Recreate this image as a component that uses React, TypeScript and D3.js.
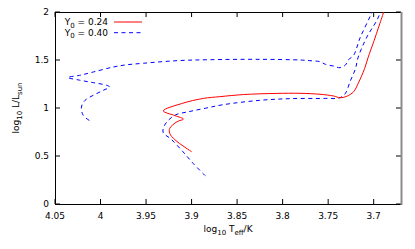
import * as d3 from "d3";

// log10 Teff and log10 L/Lsun
const teff024 = [3.900, 3.918, 3.924, 3.924, 3.916, 3.909, 3.918, 3.931, 3.911, 3.887, 3.869, 3.843, 3.807, 3.781, 3.759, 3.744, 3.737, 3.730, 3.722, 3.717, 3.710, 3.706, 3.700, 3.689];
const lum024 = [0.545, 0.667, 0.736, 0.788, 0.857, 0.885, 0.920, 0.970, 1.046, 1.100, 1.118, 1.140, 1.152, 1.153, 1.143, 1.125, 1.107, 1.120, 1.170, 1.257, 1.410, 1.530, 1.690, 2.000];

const teff040 = [3.885, 3.898, 3.910, 3.923, 3.931, 3.931, 3.927, 3.918, 3.904, 3.885, 3.865, 3.825, 3.790, 3.753, 3.737, 3.731, 3.726, 3.720, 3.717, 3.708, 3.693, 3.696, 3.702, 3.715, 3.722, 3.728, 3.731, 3.737, 3.744, 3.753, 3.759, 3.770, 3.781, 3.825, 3.880, 3.916, 3.953, 3.973, 3.986, 4.008, 4.023, 4.036, 4.023, 4.008, 3.993, 3.990, 3.997, 4.008, 4.017, 4.021, 4.019, 4.010];
const lum040 = [0.295, 0.420, 0.550, 0.680, 0.740, 0.790, 0.857, 0.927, 0.960, 0.997, 1.035, 1.080, 1.098, 1.100, 1.107, 1.153, 1.274, 1.410, 1.530, 1.730, 2.000, 2.200, 2.000, 1.730, 1.550, 1.500, 1.448, 1.420, 1.437, 1.455, 1.482, 1.493, 1.500, 1.507, 1.503, 1.493, 1.466, 1.448, 1.427, 1.375, 1.340, 1.318, 1.290, 1.264, 1.236, 1.219, 1.184, 1.132, 1.080, 1.010, 0.924, 0.856];

const xTicks = [4.05, 4, 3.95, 3.9, 3.85, 3.8, 3.75, 3.7];
const yTicks = [0, 0.5, 1, 1.5, 2];

const W = 415;
const H = 249;
const m = { left: 55, right: 401, top: 12, bottom: 204 };
const font = "DejaVu Sans, sans-serif";

export default function App() {
  document.body.style.margin = "0";

  const x = d3.scaleLinear().domain([4.05, 3.67]).range([m.left, m.right]);
  const y = d3.scaleLinear().domain([0, 2]).range([m.bottom, m.top]);

  const line = d3
    .line<[number, number]>()
    .x((d) => x(d[0]))
    .y((d) => y(d[1]))
    .curve(d3.curveCatmullRom.alpha(0.5));

  const red = line(teff024.map((t, i) => [t, lum024[i]]))!;
  const blue = line(teff040.map((t, i) => [t, lum040[i]]))!;

  return (
    <svg width={W} height={H} style={{ display: "block", background: "#fff" }} fontFamily={font}>
      <defs>
        <clipPath id="plot">
          <rect x={m.left} y={m.top} width={m.right - m.left} height={m.bottom - m.top} />
        </clipPath>
      </defs>

      {/* ticks, mirrored top and right */}
      {xTicks.map((t) => (
        <g key={"x" + t}>
          <line x1={x(t)} x2={x(t)} y1={m.bottom} y2={m.bottom - 5} stroke="#000" />
          <line x1={x(t)} x2={x(t)} y1={m.top} y2={m.top + 5} stroke="#000" />
          <text x={x(t)} y={219} fontSize={9} textAnchor="middle" fill="#000">
            {t}
          </text>
        </g>
      ))}
      {yTicks.map((t) => (
        <g key={"y" + t}>
          <line x1={m.left} x2={m.left + 5} y1={y(t)} y2={y(t)} stroke="#000" />
          <line x1={m.right} x2={m.right - 5} y1={y(t)} y2={y(t)} stroke="#000" />
          <text x={49} y={y(t)} dy="0.35em" fontSize={9} textAnchor="end" fill="#000">
            {t}
          </text>
        </g>
      ))}

      {/* border */}
      <line x1={m.left + 0.5} x2={m.left + 0.5} y1={m.top} y2={m.bottom + 1} stroke="#000" />
      <line x1={m.left} x2={m.right} y1={m.top + 0.5} y2={m.top + 0.5} stroke="#000" />
      <line x1={m.left} x2={m.right} y1={m.bottom + 0.5} y2={m.bottom + 0.5} stroke="#000" />
      <line x1={m.right + 0.5} x2={m.right + 0.5} y1={m.top} y2={m.bottom + 1} stroke="#8a8a8a" strokeWidth={2} />

      <g clipPath="url(#plot)" fill="none">
        <path d={blue} stroke="#0000ff" strokeWidth={1} strokeDasharray="4,3.5" />
        <path d={red} stroke="#ff0000" strokeWidth={1} />
      </g>

      {/* legend */}
      <text x={108} y={25} fontSize={9} textAnchor="end">
        Y<tspan fontSize={7} dy={2.5}>0</tspan>
        <tspan dy={-2.5}> = 0.24</tspan>
      </text>
      <line x1={114} x2={142} y1={22} y2={22} stroke="#ff0000" />
      <text x={108} y={35.5} fontSize={9} textAnchor="end">
        Y<tspan fontSize={7} dy={2.5}>0</tspan>
        <tspan dy={-2.5}> = 0.40</tspan>
      </text>
      <line x1={114} x2={142} y1={32.7} y2={32.7} stroke="#0000ff" strokeDasharray="4,3.5" />

      {/* axis titles */}
      <text x={(m.left + m.right) / 2} y={232} fontSize={9} textAnchor="middle">
        log<tspan fontSize={7} dy={2.5}>10</tspan>
        <tspan dy={-2.5}> T</tspan>
        <tspan fontSize={7} dy={2.5}>eff</tspan>
        <tspan dy={-2.5}>/K</tspan>
      </text>
      <text
        transform={`translate(19,${(m.top + m.bottom) / 2}) rotate(-90)`}
        fontSize={9}
        textAnchor="middle"
      >
        log<tspan fontSize={7} dy={2.5}>10</tspan>
        <tspan dy={-2.5}> L/L</tspan>
        <tspan fontSize={7} dy={2.5}>sun</tspan>
      </text>
    </svg>
  );
}
